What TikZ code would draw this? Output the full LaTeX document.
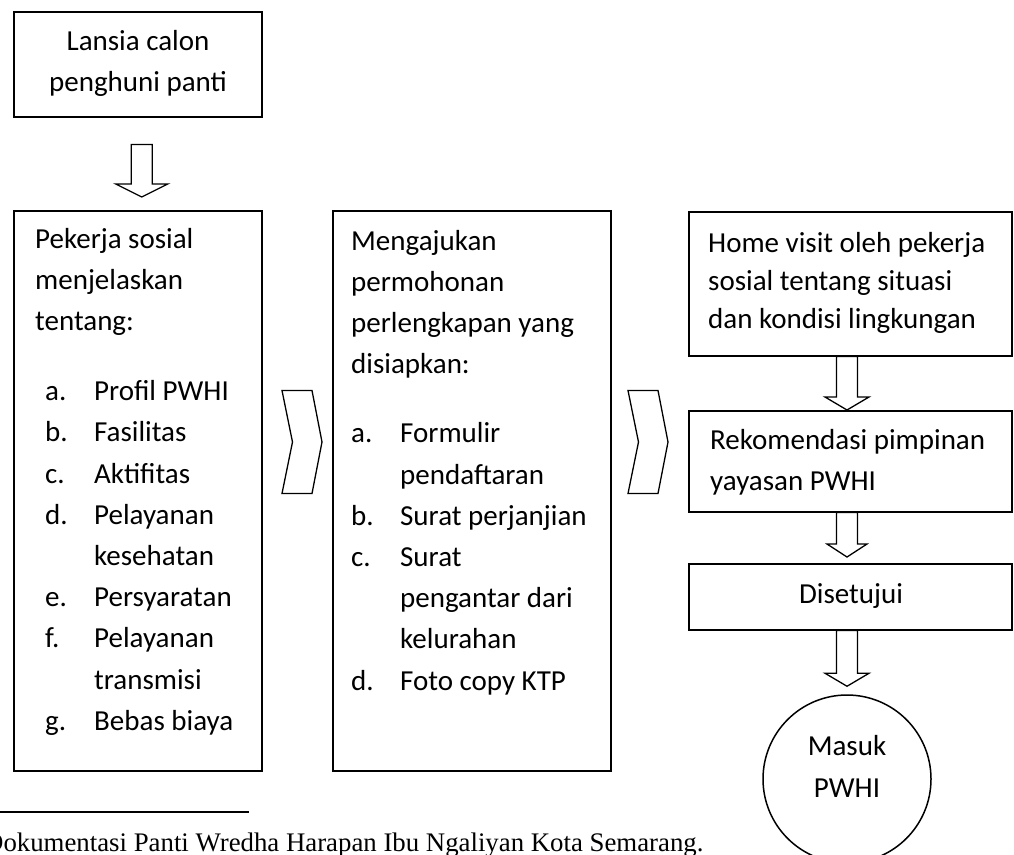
\documentclass[tikz,border=0pt]{standalone}
\usepackage{fontspec}
\setmainfont{Carlito}
\newfontfamily\footfont{Liberation Serif}
\usetikzlibrary{calc}
\newcommand\Lline[1]{\hbox{#1}}
\newcommand\Cline[1]{\hbox to 0pt{\hss#1\hss}}
\newcommand\Litem[3]{\hbox{\hspace*{#1}\makebox[49pt][l]{#2}#3}}
\newcommand\fatdown[3][22pt]{\draw[fat] let \p1=(#2), \p2=(#3) in
  (\x1-10.5pt,\y1) -- (\x1+10.5pt,\y1) -- (\x1+10.5pt,\y2+13pt) -- (\x1+#1,\y2+13pt)
  -- (\x1,\y2) -- (\x1-#1,\y2+13pt) -- (\x1-10.5pt,\y2+13pt) -- cycle;}
\newcommand\chevron[1]{\draw[fat] let \p1=(#1) in
  (\x1-20pt,\y1+51.5pt) -- (\x1+10pt,\y1+51.5pt) -- (\x1+20pt,\y1)
  -- (\x1+10pt,\y1-51.5pt) -- (\x1-20pt,\y1-51.5pt) -- (\x1-9.5pt,\y1) -- cycle;}
\tikzset{
  box/.style={draw, line width=1.5pt, rectangle, inner sep=0pt, anchor=north west},
  fat/.style={draw, line width=1.3pt, line join=miter},
  txt/.style={inner sep=0pt, font=\fontsize{29}{41.2}\selectfont},
}
\begin{document}
\begin{tikzpicture}[x=1pt,y=-1pt]
\useasboundingbox (0,0) rectangle (1014,854);
\clip (0,0) rectangle (1014,854);
% boxes
\node[box, minimum width=248, minimum height=105] (b1) at (13,11) {};
\node[box, minimum width=248, minimum height=560] (b2) at (13,210) {};
\node[box, minimum width=278, minimum height=560] (b3) at (332,210) {};
\node[box, minimum width=323, minimum height=144] (b4) at (688,211) {};
\node[box, minimum width=323, minimum height=101] (b5) at (688,410) {};
\node[box, minimum width=323, minimum height=66] (b6) at (688,563) {};
\node[draw, line width=1.5pt, circle, minimum size=168, inner sep=0pt] (c7) at (847,779) {};
% texts
\node[txt, anchor=base] (t1) at (138,50) {\vtop{\Cline{Lansia calon}\Cline{penghuni panti}}};
\node[txt, anchor=base west] (t2) at (35,248) {\vtop{%
  \Lline{Pekerja sosial}\Lline{menjelaskan}\Lline{tentang:}\vskip 29pt
  \Litem{10pt}{a.}{Profil PWHI}\Litem{10pt}{b.}{Fasilitas}\Litem{10pt}{c.}{Aktifitas}
  \Litem{10pt}{d.}{Pelayanan}\Litem{10pt}{}{kesehatan}\Litem{10pt}{e.}{Persyaratan}
  \Litem{10pt}{f.}{Pelayanan}\Litem{10pt}{}{transmisi}\Litem{10pt}{g.}{Bebas biaya}}};
\node[txt, anchor=base west] (t3) at (351,250) {\vtop{%
  \Lline{Mengajukan}\Lline{permohonan}\Lline{perlengkapan yang}\Lline{disiapkan:}\vskip 28pt
  \Litem{0pt}{a.}{Formulir}\Litem{0pt}{}{pendaftaran}\Litem{0pt}{b.}{Surat perjanjian}
  \Litem{0pt}{c.}{Surat}\Litem{0pt}{}{pengantar dari}\Litem{0pt}{}{kelurahan}
  \Litem{0pt}{d.}{Foto copy KTP}}};
\node[txt, anchor=base west, font=\fontsize{29}{38}\selectfont] (t4) at (708,252) {\vtop{%
  \Lline{Home visit oleh pekerja}\Lline{sosial tentang situasi}\Lline{dan kondisi lingkungan}}};
\node[txt, anchor=base west] (t5) at (710,449) {\vtop{%
  \Lline{Rekomendasi pimpinan}\Lline{yayasan PWHI}}};
\node[txt, anchor=base] (t6) at (851,603) {Disetujui};
\node[txt, anchor=base, font=\fontsize{29}{42}\selectfont] (t7) at (847,755) {\vtop{\Cline{Masuk}\Cline{PWHI}}};
% block arrows
\coordinate (colx) at (847,0);
\coordinate (a1t) at ($(b1.south)+(4,27)$);
\coordinate (a1h) at ($(b2.north)+(4,-13)$);
\fatdown[26pt]{a1t}{a1h}
\fatdown{b4.south -| colx}{b5.north -| colx}
\coordinate (a3h) at ($(b6.north -| colx)+(0,-6)$);
\fatdown[20pt]{b5.south -| colx}{a3h}
\coordinate (a4h) at ($(c7.north)+(0,-8)$);
\fatdown{b6.south -| colx}{a4h}
% chevrons
\coordinate (ch1) at (302,442);
\coordinate (ch2) at (648,442);
\chevron{ch1}
\chevron{ch2}
% footnote
\coordinate (r1) at (0,812);
\coordinate (r2) at (249,812);
\draw[line width=2pt] (r1) -- (r2);
\node[inner sep=0pt, anchor=base west, font=\footfont\fontsize{26.8}{30}\selectfont] (fn) at (-16,851)
  {Dokumentasi Panti Wredha Harapan Ibu Ngaliyan Kota Semarang.};
\end{tikzpicture}
\end{document}
